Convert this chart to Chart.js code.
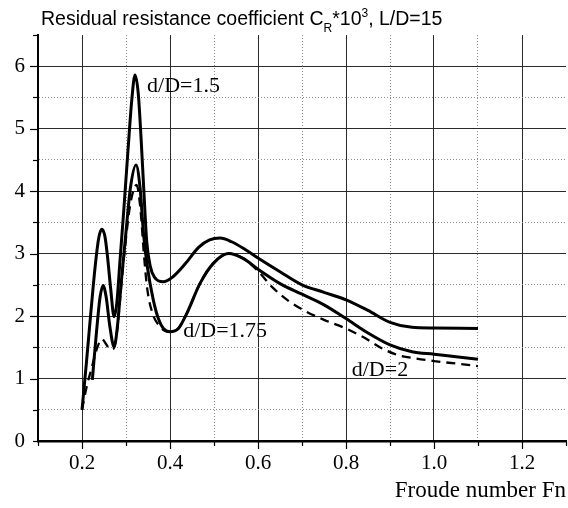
<!DOCTYPE html>
<html>
<head>
<meta charset="utf-8">
<script src="https://cdn.jsdelivr.net/npm/chart.js@4.4.0/dist/chart.umd.min.js"></script>
<style>
html,body{margin:0;padding:0;background:#fff;}
#wrap{width:568px;height:508px;position:relative;}
</style>
</head>
<body>
<div id="wrap"><canvas id="c" width="568" height="508"></canvas></div>
<script>
// ---- data ----
const fnD150 = [0.200,0.210,0.220,0.230,0.238,0.245,0.252,0.258,0.265,0.273,0.279,0.286,0.295,0.305,0.313,0.3205,0.328,0.335,0.341,0.347,0.355,0.365,0.385,0.405,0.435,0.465,0.490,0.514,0.540,0.570,0.600,0.650,0.700,0.750,0.800,0.850,0.900,0.950,1.000,1.100];
const crD150 = [0.50,1.25,2.05,2.80,3.25,3.39,3.28,2.95,2.45,1.99,2.20,2.85,3.70,4.70,5.45,5.86,5.55,4.75,3.95,3.20,2.80,2.62,2.55,2.62,2.84,3.10,3.22,3.25,3.19,3.07,2.93,2.71,2.50,2.38,2.26,2.09,1.90,1.82,1.81,1.80];

const fnD175 = [0.2235,0.233,0.241,0.248,0.255,0.263,0.273,0.280,0.290,0.300,0.310,0.3227,0.332,0.340,0.3485,0.362,0.3735,0.385,0.400,0.419,0.438,0.468,0.498,0.533,0.567,0.600,0.650,0.700,0.750,0.800,0.850,0.900,0.950,1.000,1.050,1.100];
const crD175 = [0.98,1.75,2.30,2.49,2.30,1.85,1.51,1.80,2.60,3.35,4.05,4.42,4.05,3.30,2.79,2.26,1.96,1.80,1.75,1.80,2.04,2.52,2.84,3.00,2.92,2.75,2.52,2.35,2.18,1.96,1.73,1.54,1.43,1.39,1.35,1.31];

const fnD200 = [0.200,0.210,0.222,0.235,0.245,0.255,0.263,0.272,0.280,0.290,0.300,0.310,0.324,0.333,0.340,0.348,0.360,0.375,0.390,0.400,0.419,0.438,0.468,0.498,0.533,0.567,0.600,0.630,0.670,0.710,0.750,0.800,0.840,0.880,0.920,0.960,1.000,1.050,1.100];
const crD200 = [0.50,0.85,1.17,1.50,1.63,1.55,1.47,1.48,1.78,2.55,3.25,3.80,4.10,3.70,3.05,2.45,2.05,1.85,1.76,1.75,1.80,2.04,2.52,2.84,3.00,2.92,2.72,2.48,2.24,2.07,1.94,1.80,1.66,1.49,1.37,1.32,1.28,1.24,1.20];

const xTickLabels = ['0.2','0.4','0.6','0.8','1.0','1.2'];
const yTickLabels = ['0','1','2','3','4','5','6'];
const seriesNames = ['d/D=1.5','d/D=1.75','d/D=2'];
const axisTitleX = 'Froude number Fn';

// ---- helpers ----
function pts(xs, ys) { return xs.map((x, i) => ({ x: x, y: ys[i] })); }
const SERIF = '"Liberation Serif", "Times New Roman", serif';
const SANS = '"Liberation Sans", Arial, sans-serif';

function xKindV(v) {
  const k = Math.round(v * 10);
  if (k <= 1 || k >= 13) return 'edge';
  return k % 2 === 0 ? 'major' : 'minor';
}
function yKindV(v) {
  const k = Math.round(v * 2);
  if (k <= 0 || k >= 13) return 'edge';
  return k % 2 === 0 ? 'major' : 'minor';
}
function xKind(ctx) { return (ctx && ctx.tick) ? xKindV(ctx.tick.value) : 'none'; }
function yKind(ctx) { return (ctx && ctx.tick) ? yKindV(ctx.tick.value) : 'none'; }
function gridColor(kind) {
  if (kind === 'major') return '#2a2a2a';
  if (kind === 'minor') return '#8c8c8c';
  return 'rgba(0,0,0,0)';
}

// title with subscript / superscript
const titlePlugin = {
  id: 'subsupTitle',
  afterDraw(chart) {
    const ctx = chart.ctx;
    ctx.save();
    ctx.fillStyle = '#000';
    ctx.textBaseline = 'alphabetic';
    ctx.textAlign = 'left';
    let x = 41;
    const base = 25;
    const parts = [
      { t: 'Residual resistance coefficient C', size: 19.5, dy: 0 },
      { t: 'R', size: 12, dy: 6.5 },
      { t: '*10', size: 19.5, dy: 0 },
      { t: '3', size: 12, dy: -8 },
      { t: ', L/D=15', size: 19.5, dy: 0 }
    ];
    parts.forEach(p => {
      ctx.font = p.size + 'px ' + SANS;
      ctx.fillText(p.t, x, base + p.dy);
      x += ctx.measureText(p.t).width;
    });
    ctx.restore();
  }
};

// tick marks: long for major, short for minor
const tickPlugin = {
  id: 'tickMarks',
  beforeDatasetsDraw(chart) {
    const ctx = chart.ctx;
    const xs = chart.scales.x, ys = chart.scales.y;
    const a = chart.chartArea;
    ctx.save();
    ctx.strokeStyle = '#000';
    ctx.lineWidth = 1.2;
    xs.ticks.forEach(t => {
      const k = xKindV(t.value);
      const len = (k === 'major') ? 8 : 5;
      const px = Math.round(xs.getPixelForValue(t.value)) + 0.5;
      ctx.beginPath(); ctx.moveTo(px, a.bottom); ctx.lineTo(px, a.bottom + len); ctx.stroke();
    });
    ys.ticks.forEach(t => {
      const k = yKindV(t.value);
      const len = (k === 'major') ? 8 : 5;
      const py = Math.round(ys.getPixelForValue(t.value)) + 0.5;
      ctx.beginPath(); ctx.moveTo(a.left, py); ctx.lineTo(a.left - len, py); ctx.stroke();
    });
    ctx.restore();
  }
};

// curve labels in data coordinates
const curveLabels = [
  { text: seriesNames[0], fn: 0.348, cr: 5.58 },
  { text: seriesNames[1], fn: 0.430, cr: 1.66 },
  { text: seriesNames[2], fn: 0.813, cr: 1.04 }
];
const labelPlugin = {
  id: 'curveLabels',
  afterDatasetsDraw(chart) {
    const ctx = chart.ctx;
    const xs = chart.scales.x, ys = chart.scales.y;
    ctx.save();
    ctx.fillStyle = '#000';
    ctx.font = '22px ' + SERIF;
    ctx.textAlign = 'left';
    ctx.textBaseline = 'alphabetic';
    curveLabels.forEach(l => {
      ctx.fillText(l.text, xs.getPixelForValue(l.fn), ys.getPixelForValue(l.cr));
    });
    ctx.restore();
  }
};

new Chart(document.getElementById('c'), {
  type: 'line',
  data: {
    datasets: [
      { label: seriesNames[0], data: pts(fnD150, crD150), borderColor: '#000', borderWidth: 3, pointRadius: 0, cubicInterpolationMode: 'monotone', fill: false },
      { label: seriesNames[1], data: pts(fnD175, crD175), borderColor: '#000', borderWidth: 3, pointRadius: 0, cubicInterpolationMode: 'monotone', fill: false },
      { label: seriesNames[2], data: pts(fnD200, crD200), borderColor: '#000', borderWidth: 2.3, borderDash: [9, 6], pointRadius: 0, cubicInterpolationMode: 'monotone', fill: false }
    ]
  },
  options: {
    responsive: false,
    animation: false,
    devicePixelRatio: 1,
    layout: { padding: { top: 35, right: 2, left: 0, bottom: 0 } },
    plugins: { legend: { display: false }, tooltip: { enabled: false }, title: { display: false } },
    scales: {
      x: {
        type: 'linear',
        min: 0.1, max: 1.3,
        afterFit(s) { s.height = 67; s.paddingLeft = 0; s.paddingRight = 0; },
        ticks: {
          stepSize: 0.1, maxTicksLimit: 100, autoSkip: false, maxRotation: 0, minRotation: 0,
          padding: 10, color: '#000',
          font: { family: SERIF, size: 21 },
          callback(v) { const s = Number(v).toFixed(1); return xTickLabels.includes(s) ? s : ''; }
        },
        grid: {
          color: c => gridColor(xKind(c)),
          lineWidth: 1,
          drawTicks: false
        },
        border: { display: true, color: '#000', width: 2.5, dash: c => xKind(c) === 'minor' ? [1, 2] : [] },
        title: { display: true, text: axisTitleX, align: 'end', color: '#000', font: { family: SERIF, size: 23 }, padding: { top: 0, bottom: 3 } }
      },
      y: {
        type: 'linear',
        min: 0, max: 6.5,
        afterFit(s) { s.width = 38; s.paddingTop = 0; s.paddingBottom = 0; },
        ticks: {
          stepSize: 0.5, maxTicksLimit: 100, autoSkip: false,
          padding: 13, color: '#000',
          font: { family: SERIF, size: 21 },
          callback(v) { const s = String(Math.round(v * 10) / 10); return yTickLabels.includes(s) ? s : ''; }
        },
        grid: {
          color: c => gridColor(yKind(c)),
          lineWidth: 1,
          drawTicks: false
        },
        border: { display: true, color: '#000', width: 2, dash: c => yKind(c) === 'minor' ? [1, 2] : [] }
      }
    }
  },
  plugins: [titlePlugin, tickPlugin, labelPlugin]
});
</script>
</body>
</html>
